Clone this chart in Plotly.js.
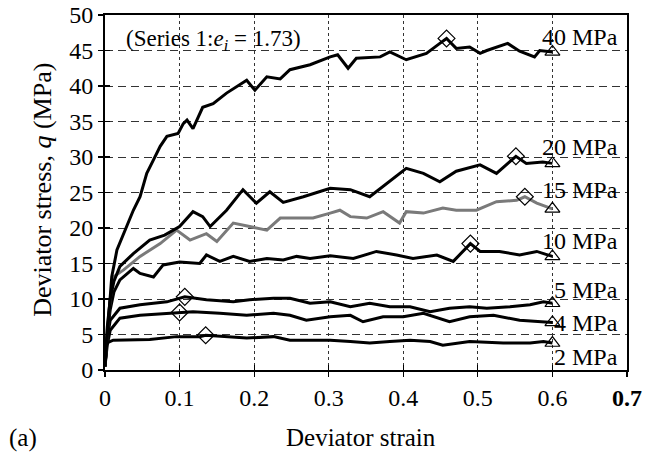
<!DOCTYPE html>
<html>
<head>
<meta charset="utf-8">
<script src="https://cdn.plot.ly/plotly-3.0.1.min.js"></script>
<style>html,body{margin:0;padding:0;background:#fff;}#chart{width:656px;height:454px;}</style>
</head>
<body>
<div id="chart"></div>
<script>
// ---- data ----
const x40 = [0, 0.003, 0.006, 0.009, 0.016, 0.02, 0.029, 0.038, 0.047, 0.056, 0.065, 0.074, 0.083, 0.098, 0.105, 0.11, 0.118, 0.131, 0.145, 0.163, 0.19, 0.201, 0.217, 0.235, 0.248, 0.275, 0.302, 0.312, 0.326, 0.337, 0.369, 0.382, 0.404, 0.431, 0.449, 0.458, 0.471, 0.489, 0.503, 0.512, 0.54, 0.556, 0.576, 0.583, 0.6];
const y40 = [0.5, 5, 9.5, 13.1, 16.9, 17.9, 20.2, 22.5, 24.4, 27.7, 29.6, 31.5, 32.9, 33.3, 34.7, 35.2, 34, 37, 37.5, 39, 40.8, 39.4, 41.3, 41, 42.3, 43, 44.1, 44.4, 42.5, 43.9, 44.1, 44.8, 43.7, 44.6, 46, 46.7, 45.3, 45.5, 44.6, 45, 46, 44.9, 44.1, 45, 44.8];

const x20 = [0, 0.003, 0.007, 0.012, 0.02, 0.038, 0.06, 0.08, 0.1, 0.118, 0.131, 0.141, 0.163, 0.185, 0.203, 0.221, 0.239, 0.266, 0.302, 0.329, 0.355, 0.378, 0.404, 0.427, 0.449, 0.471, 0.485, 0.503, 0.525, 0.541, 0.551, 0.565, 0.587, 0.6];
const y20 = [0.5, 6, 10, 12.5, 14.6, 16.4, 18.3, 19, 20.2, 22.3, 21.6, 20.2, 22.5, 25.4, 23.5, 25.1, 23.6, 24.4, 25.6, 25.4, 24.4, 26.3, 28.4, 27.7, 26.5, 28, 28.4, 28.9, 27.7, 29.1, 30.1, 29.1, 29.3, 29.1];

const x15 = [0, 0.003, 0.007, 0.011, 0.025, 0.047, 0.074, 0.096, 0.114, 0.136, 0.15, 0.172, 0.194, 0.217, 0.235, 0.252, 0.279, 0.302, 0.315, 0.329, 0.351, 0.373, 0.395, 0.404, 0.427, 0.453, 0.471, 0.498, 0.525, 0.552, 0.563, 0.579, 0.6];
const y15 = [0.5, 5.5, 10, 13.1, 14.1, 16, 17.8, 19.7, 18.3, 19.2, 18.1, 20.7, 20.2, 19.7, 21.4, 21.4, 21.4, 22.1, 22.5, 21.6, 21.4, 22.3, 20.7, 22.3, 22.1, 22.8, 22.5, 22.5, 23.7, 23.9, 24.4, 23.5, 22.7];

const x10 = [0, 0.003, 0.007, 0.012, 0.02, 0.038, 0.047, 0.065, 0.078, 0.1, 0.127, 0.136, 0.154, 0.172, 0.194, 0.217, 0.239, 0.257, 0.275, 0.302, 0.333, 0.364, 0.391, 0.413, 0.445, 0.467, 0.49, 0.503, 0.529, 0.556, 0.579, 0.6];
const y10 = [0.5, 5, 8.5, 11, 12.7, 14.3, 13.6, 13.1, 14.8, 15.2, 15, 16.2, 15.3, 16, 15.3, 15.7, 15.5, 16, 15.7, 16.1, 15.7, 16.7, 16.2, 15.7, 16.2, 15.3, 17.8, 16.7, 16.7, 16.2, 16.7, 16];

const x5 = [0, 0.003, 0.007, 0.02, 0.047, 0.083, 0.107, 0.136, 0.172, 0.194, 0.226, 0.248, 0.275, 0.302, 0.329, 0.355, 0.382, 0.409, 0.436, 0.462, 0.489, 0.512, 0.543, 0.57, 0.588, 0.6];
const y5 = [0.5, 4.5, 7, 8.7, 9.2, 9.6, 10.3, 9.9, 9.6, 9.9, 10.1, 10.1, 9.4, 9.6, 8.9, 9.4, 8.9, 8.9, 8.2, 8.7, 8.9, 8.7, 8.9, 9.2, 9.6, 9.4];

const x4 = [0, 0.003, 0.007, 0.02, 0.047, 0.083, 0.1, 0.118, 0.154, 0.19, 0.226, 0.248, 0.27, 0.302, 0.329, 0.346, 0.373, 0.4, 0.427, 0.462, 0.489, 0.521, 0.556, 0.583, 0.6];
const y4 = [0.5, 3.5, 5.6, 7.3, 7.7, 8, 8.1, 8.2, 8, 7.7, 8, 7.7, 7, 7.5, 7.7, 6.8, 7.5, 7.5, 8, 6.8, 7.5, 7.7, 7, 6.8, 6.7];

const x2 = [0, 0.002, 0.011, 0.029, 0.06, 0.096, 0.127, 0.135, 0.163, 0.19, 0.226, 0.248, 0.275, 0.302, 0.329, 0.355, 0.382, 0.409, 0.436, 0.453, 0.489, 0.534, 0.57, 0.588, 0.6];
const y2 = [0.5, 3.8, 4.2, 4.2, 4.3, 4.7, 4.7, 4.9, 4.7, 4.5, 4.7, 4.2, 4.2, 4.2, 4, 3.8, 4, 4.2, 4, 3.5, 4, 3.8, 3.8, 4, 3.8];

// peak (diamond) and end (triangle) points, order: 2,4,5,10,15,20,40 MPa
const peakX = [0.135, 0.1, 0.107, 0.49, 0.563, 0.551, 0.458];
const peakY = [4.9, 8.1, 10.3, 17.8, 24.4, 30.1, 46.7];
const endX = [0.6, 0.6, 0.6, 0.6, 0.6, 0.6, 0.6];
const endY = [3.8, 6.7, 9.4, 16, 22.7, 29.1, 44.8];

const confLabels = ["2 MPa", "4 MPa", "5 MPa", "10 MPa", "15 MPa", "20 MPa", "40 MPa"];
const xTickVals = [0, 0.1, 0.2, 0.3, 0.4, 0.5, 0.6, 0.7];
const xTickText = ["0", "0.1", "0.2", "0.3", "0.4", "0.5", "0.6", "<b>0.7</b>"];
const yTickVals = [0, 5, 10, 15, 20, 25, 30, 35, 40, 45, 50];

// ---- drawing ----
const FONT = "Liberation Serif, Times New Roman, serif";
function curve(x, y, color) {
  return {x: x, y: y, type: 'scatter', mode: 'lines', line: {color: color, width: 3}, hoverinfo: 'skip', showlegend: false};
}
const traces = [
  curve(x2, y2, '#000'),
  curve(x4, y4, '#000'),
  curve(x5, y5, '#000'),
  curve(x10, y10, '#000'),
  curve(x15, y15, '#7a7a7a'),
  curve(x20, y20, '#000'),
  curve(x40, y40, '#000'),
  {x: peakX, y: peakY, type: 'scatter', mode: 'markers', showlegend: false,
   marker: {symbol: 'diamond-open', size: 13, color: '#000', line: {width: 1.2}}},
  {x: endX, y: endY, type: 'scatter', mode: 'markers', showlegend: false,
   marker: {symbol: 'triangle-up-open', size: 13, color: '#000', line: {width: 1.2}}},
  {x: [], y: [], xaxis: 'x2', yaxis: 'y2', type: 'scatter', showlegend: false}
];

const labelYs = [1.8, 6.6, 11.3, 18.2, 25.4, 31.4, 46.9];
const annotations = confLabels.map((t, i) => ({
  x: 0.69, y: labelYs[i], xref: 'x', yref: 'y', text: t, showarrow: false,
  xanchor: 'right', yanchor: 'middle', font: {family: FONT, size: 24, color: '#000'}
}));
annotations.push(
  {x: 0.036, y: 0.93, xref: 'paper', yref: 'paper', xanchor: 'left', yanchor: 'middle', showarrow: false,
   text: '(Series 1:<i>e<sub>i</sub></i> = 1.73)', font: {family: FONT, size: 23, color: '#000'}},
  {x: -0.121, y: 0.507, xref: 'paper', yref: 'paper', xanchor: 'center', yanchor: 'middle', showarrow: false,
   textangle: -90, text: 'Deviator stress, <i>q</i> (MPa)', font: {family: FONT, size: 26, color: '#000'}},
  {x: 0.49, y: -0.189, xref: 'paper', yref: 'paper', xanchor: 'center', yanchor: 'middle', showarrow: false,
   text: 'Deviator strain', font: {family: FONT, size: 25, color: '#000'}},
  {x: -0.188, y: -0.192, xref: 'paper', yref: 'paper', xanchor: 'left', yanchor: 'middle', showarrow: false,
   text: '(a)', font: {family: FONT, size: 25, color: '#000'}}
);

const layout = {
  width: 656, height: 454,
  margin: {l: 105, r: 29, t: 15, b: 84},
  paper_bgcolor: '#fff', plot_bgcolor: '#fff',
  font: {family: FONT, size: 24, color: '#000'},
  showlegend: false,
  xaxis: {range: [0, 0.7], tickvals: xTickVals, ticktext: xTickText, ticks: 'outside', ticklen: 5, tickwidth: 1.2,
          tickcolor: '#000', showline: true, linecolor: '#000', linewidth: 2, mirror: true,
          showgrid: true, gridcolor: '#333', gridwidth: 1, griddash: '3px,3px', zeroline: false,
          tickfont: {family: FONT, size: 24, color: '#000'}},
  yaxis: {range: [0, 50], tickvals: yTickVals, ticks: 'outside', ticklen: 5, tickwidth: 1.2,
          tickcolor: '#000', showline: true, linecolor: '#000', linewidth: 2, mirror: true,
          showgrid: true, gridcolor: '#333', gridwidth: 1, griddash: '8px,5px', zeroline: false,
          tickfont: {family: FONT, size: 24, color: '#000'}},
  xaxis2: {overlaying: 'x', range: [0, 0.7], tickvals: xTickVals, ticks: 'inside', ticklen: 5, tickwidth: 1.2,
           tickcolor: '#000', showticklabels: false, showgrid: false, zeroline: false, showline: false},
  yaxis2: {overlaying: 'y', range: [0, 50], tickvals: yTickVals, ticks: 'inside', ticklen: 5, tickwidth: 1.2,
           tickcolor: '#000', showticklabels: false, showgrid: false, zeroline: false, showline: false},
  annotations: annotations
};

Plotly.newPlot('chart', traces, layout, {staticPlot: true, displayModeBar: false});
</script>
</body>
</html>
